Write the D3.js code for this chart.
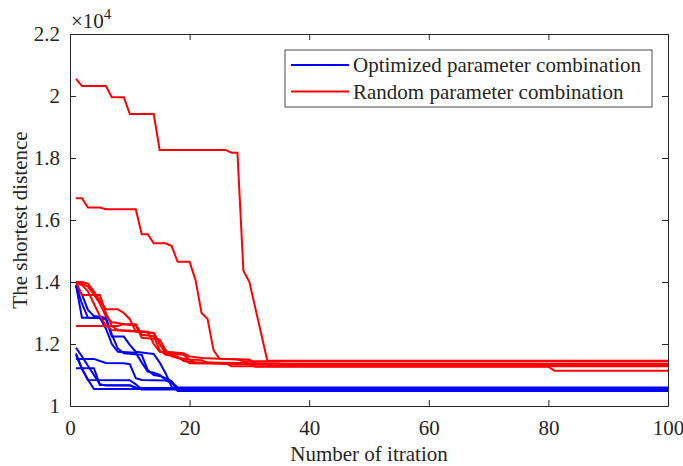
<html>
<head>
<style>
    body { margin:0; background:white; }
    svg text { fill:#262626; }
</style>
</head>
<body>
<svg id="plot"></svg>
<script src="https://d3js.org/d3.v7.min.js"></script>
<script>

// shortest distance (x 10^4) per iteration, [iteration, value] at every change
var blue1 = [[1,1.39],[2,1.285],[5,1.285],[6,1.25],[7,1.20],[8,1.175],[11,1.172],[12,1.14],[13,1.111],[14,1.107],[15,1.10],[16,1.084],[17,1.078],[18,1.055],[100,1.055]];
var blue2 = [[1,1.39],[2,1.33],[3,1.285],[5,1.283],[6,1.28],[7,1.224],[9,1.224],[10,1.197],[11,1.175],[13,1.17],[14,1.168],[15,1.14],[16,1.105],[17,1.062],[18,1.05],[100,1.05]];
var blue3 = [[1,1.385],[2,1.36],[3,1.31],[4,1.29],[6,1.285],[7,1.23],[8,1.185],[9,1.17],[12,1.165],[13,1.116],[14,1.10],[15,1.097],[16,1.09],[17,1.08],[18,1.048],[100,1.048]];
var blue4 = [[1,1.188],[2,1.16],[3,1.13],[4,1.10],[5,1.07],[6,1.066],[10,1.066],[11,1.058],[100,1.058]];
var blue5 = [[1,1.17],[2,1.12],[3,1.084],[10,1.083],[11,1.07],[12,1.053],[100,1.053]];
var blue6 = [[1,1.152],[4,1.152],[5,1.145],[6,1.139],[9,1.138],[10,1.135],[11,1.09],[12,1.084],[16,1.082],[17,1.075],[18,1.06],[100,1.06]];
var blue7 = [[1,1.122],[4,1.122],[5,1.068],[10,1.067],[11,1.06],[12,1.056],[100,1.056]];
var blue8 = [[1,1.165],[2,1.12],[3,1.085],[4,1.055],[100,1.055]];

var red1 = [[1,2.055],[2,2.032],[6,2.032],[7,1.996],[9,1.996],[10,1.942],[14,1.942],[15,1.826],[26,1.826],[27,1.817],[28,1.817],[29,1.436],[30,1.40],[33,1.146],[100,1.146]];
var red2 = [[1,1.670],[2,1.670],[3,1.640],[5,1.640],[6,1.635],[11,1.635],[12,1.554],[13,1.554],[14,1.525],[16,1.525],[17,1.516],[18,1.465],[20,1.465],[21,1.406],[22,1.30],[23,1.281],[24,1.18],[25,1.152],[30,1.15],[31,1.136],[100,1.136]];
var red3 = [[1,1.40],[2,1.40],[3,1.395],[4,1.37],[5,1.34],[6,1.312],[8,1.312],[9,1.30],[10,1.28],[11,1.24],[14,1.236],[15,1.20],[16,1.17],[19,1.165],[20,1.15],[22,1.148],[23,1.14],[35,1.137],[36,1.132],[100,1.132]];
var red4 = [[1,1.40],[2,1.358],[5,1.358],[6,1.30],[7,1.258],[8,1.245],[13,1.24],[14,1.20],[15,1.175],[17,1.17],[18,1.155],[20,1.15],[21,1.14],[30,1.135],[31,1.127],[80,1.127],[81,1.114],[100,1.114]];
var red5 = [[1,1.258],[8,1.258],[9,1.264],[11,1.264],[12,1.23],[14,1.225],[15,1.18],[16,1.165],[18,1.16],[19,1.145],[21,1.14],[26,1.138],[27,1.128],[100,1.128]];
var red6 = [[1,1.40],[2,1.39],[3,1.37],[4,1.33],[5,1.29],[6,1.26],[7,1.245],[14,1.236],[15,1.20],[16,1.175],[19,1.17],[20,1.16],[22,1.155],[28,1.15],[29,1.144],[100,1.144]];
var red7 = [[1,1.395],[2,1.395],[3,1.385],[4,1.36],[5,1.33],[6,1.29],[7,1.27],[8,1.268],[9,1.264],[11,1.26],[12,1.22],[15,1.215],[16,1.18],[17,1.16],[19,1.15],[20,1.138],[33,1.134],[34,1.13],[100,1.13]];

var blueRuns = [blue1,blue2,blue3,blue4,blue5,blue6,blue7,blue8];
var redRuns = [red1,red2,red3,red4,red5,red6,red7];

var xTicks = [0,20,40,60,80,100];
var yTicks = [1,1.2,1.4,1.6,1.8,2,2.2];
var legendNames = ["Optimized parameter combination","Random parameter combination"];
var lineColors = ["#0000ff","#ff0000"];

var serif = "'Liberation Serif','Times New Roman',Times,serif";
var fs = 21;

var screen = {width:683, height:466};
var margins = {top:34, bottom:60, left:70, right:15};
var graph = {
    width:screen.width-margins.left-margins.right,
    height:screen.height-margins.top-margins.bottom
};

var svg = d3.select("#plot")
    .attr("width",screen.width)
    .attr("height",screen.height);

var g = svg.append("g")
    .attr("transform","translate("+margins.left+","+margins.top+")");

var xScale = d3.scaleLinear()
    .domain([0,100])
    .range([0,graph.width]);

var yScale = d3.scaleLinear()
    .domain([1,2.2])
    .range([graph.height,0]);

var line = d3.line()
    .x(function(d){return xScale(d[0]);})
    .y(function(d){return yScale(d[1]);});

// blue first, red drawn on top
g.selectAll(".blue")
    .data(blueRuns)
    .enter()
    .append("path")
    .attr("d",line)
    .attr("fill","none")
    .attr("stroke",lineColors[0])
    .attr("stroke-width",2);

g.selectAll(".red")
    .data(redRuns)
    .enter()
    .append("path")
    .attr("d",line)
    .attr("fill","none")
    .attr("stroke",lineColors[1])
    .attr("stroke-width",2);

//axes, ticks inward, box on
var fmt = function(d){return d3.format("~g")(d);};

var xAxis = g.append("g")
    .attr("transform","translate(0,"+graph.height+")")
    .call(d3.axisBottom(xScale).tickValues(xTicks).tickSize(-6).tickPadding(14).tickFormat(fmt));
var xTop = g.append("g")
    .call(d3.axisTop(xScale).tickValues(xTicks).tickSize(-6).tickFormat(""));
var yAxis = g.append("g")
    .call(d3.axisLeft(yScale).tickValues(yTicks).tickSize(-6).tickPadding(10).tickFormat(fmt));
var yRight = g.append("g")
    .attr("transform","translate("+graph.width+",0)")
    .call(d3.axisRight(yScale).tickValues(yTicks).tickSize(-6).tickFormat(""));

[xAxis,xTop,yAxis,yRight].forEach(function(a)
{
    a.attr("font-family",serif).attr("font-size",fs);
    a.selectAll("path").attr("stroke","#262626").attr("stroke-width",1);
    a.selectAll("line").attr("stroke","#262626").attr("stroke-width",1);
    a.selectAll("text").attr("fill","#262626");
});

//exponent label
var expo = svg.append("text")
    .attr("x",margins.left+1)
    .attr("y",28)
    .attr("font-family",serif)
    .attr("font-size",fs);
expo.append("tspan").text("\u00d710");
expo.append("tspan").attr("dy",-9).attr("font-size",15).text("4");

//axis labels
svg.append("text")
    .text("Number of itration")
    .attr("text-anchor","middle")
    .attr("x",margins.left+graph.width/2)
    .attr("y",461)
    .attr("font-family",serif)
    .attr("font-size",fs);

svg.append("text")
    .text("The shortest distence")
    .attr("text-anchor","middle")
    .attr("transform","translate(27,"+(margins.top+graph.height/2)+") rotate(-90)")
    .attr("font-family",serif)
    .attr("font-size",fs);

//legend
var legend = svg.append("g")
    .attr("transform","translate(285,50)");

legend.append("rect")
    .attr("width",367)
    .attr("height",57)
    .attr("fill","white")
    .attr("stroke","#4d4d4d")
    .attr("stroke-width",1);

legendNames.forEach(function(name,i)
{
    var y = 15+i*26.5;
    legend.append("line")
        .attr("x1",6).attr("x2",64)
        .attr("y1",y).attr("y2",y)
        .attr("stroke",lineColors[i])
        .attr("stroke-width",2);
    legend.append("text")
        .text(name)
        .attr("x",68)
        .attr("y",y+7)
        .attr("font-family",serif)
        .attr("font-size",fs);
});

</script>
</body>
</html>
